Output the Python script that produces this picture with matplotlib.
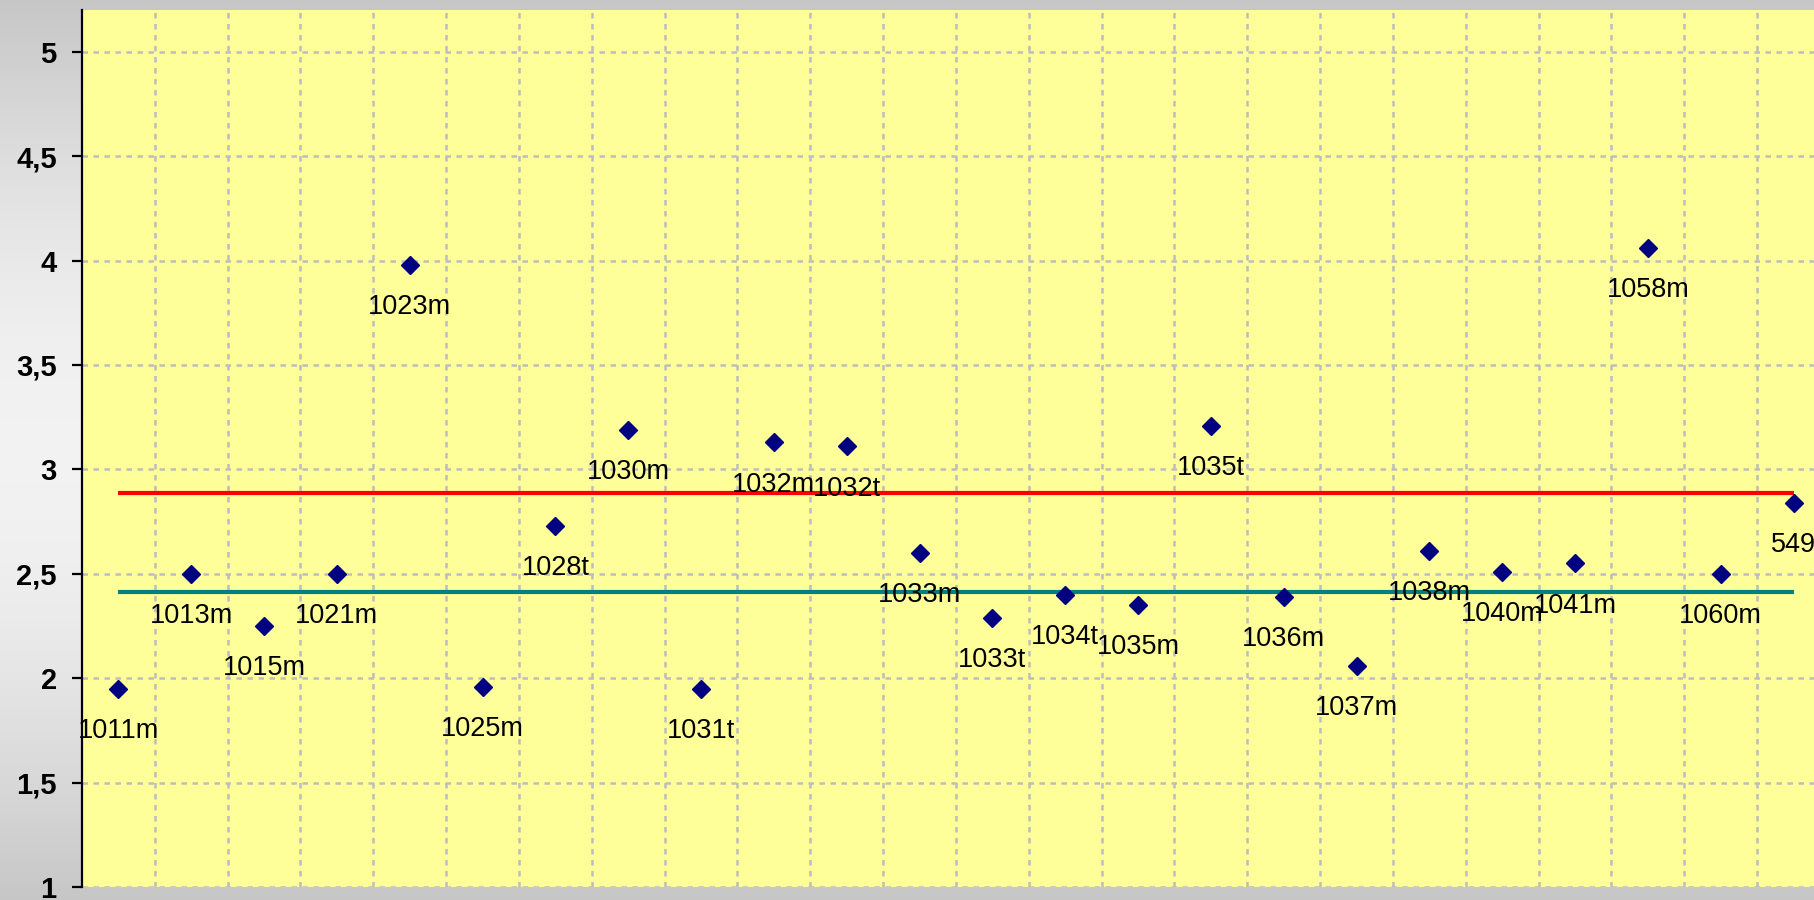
import numpy as np
import matplotlib.pyplot as plt
from matplotlib.ticker import FuncFormatter, MultipleLocator, FixedLocator

# data
labels = ["1011m", "1013m", "1015m", "1021m", "1023m", "1025m", "1028t", "1030m",
          "1031t", "1032m", "1032t", "1033m", "1033t", "1034t", "1035m", "1035t",
          "1036m", "1037m", "1038m", "1040m", "1041m", "1058m", "1060m", "549"]
values = [1.95, 2.50, 2.25, 2.50, 3.98, 1.96, 2.73, 3.19,
          1.95, 3.13, 3.11, 2.60, 2.29, 2.40, 2.35, 3.21,
          2.39, 2.06, 2.61, 2.51, 2.55, 4.06, 2.50, 2.84]
red_level = 2.885
teal_level = 2.415

plt.rcParams["font.family"] = ["Liberation Sans", "DejaVu Sans"]

W, H = 1814, 900
fig = plt.figure(figsize=(W / 100, H / 100), dpi=100)

# grey gradient background behind the plot area
bg = fig.add_axes([0, 0, 1, 1])
t = np.linspace(0, 1, 256)
shade = 0.78 + 0.17 * np.sin(np.pi * t)
grad = np.dstack([shade, shade, shade]).reshape(256, 1, 3)
bg.imshow(grad, aspect="auto", extent=[0, 1, 0, 1], origin="upper")
bg.set_axis_off()

# plot area runs past the right edge (reference is cropped there)
left, right, bottom, top = 82, 1830, 887, 10
ax = fig.add_axes([left / W, (H - bottom) / H, (right - left) / W, (bottom - top) / H])
ax.set_facecolor("#FFFF99")

x = np.arange(len(labels))
ax.plot(x, [red_level] * len(labels), color="#FF0000", lw=3, solid_capstyle="butt", zorder=2)
ax.plot(x, [teal_level] * len(labels), color="#008080", lw=3, solid_capstyle="butt", zorder=2)
ax.plot(x, values, linestyle="none", marker="D", ms=8.7, color="#000080", zorder=3)

for xi, yi, lab in zip(x, values, labels):
    ax.annotate(lab, (xi, yi), xytext=(0, -35.5), textcoords="offset points",
                ha="center", va="baseline", fontsize=19.5, color="black", zorder=4,
                annotation_clip=False)

ax.set_xlim(-0.5, len(labels) - 0.5)
ax.set_ylim(1, 5.2)

# grid: between categories vertically, every 0.5 horizontally
ax.xaxis.set_major_locator(FixedLocator(np.arange(0.5, len(labels) - 0.5, 1)))
ax.yaxis.set_major_locator(MultipleLocator(0.5))
ax.grid(True, color="#bdbdbd", lw=1.8, linestyle=(0, (2.2, 2.2)), zorder=1)
ax.set_axisbelow(True)
ax.tick_params(axis="x", length=0, labelbottom=False)
ax.tick_params(axis="y", direction="out", length=7.2, width=1.6, pad=11,
               labelsize=21, color="black")
for lab in ax.get_yticklabels():
    lab.set_fontweight("bold")
ax.yaxis.set_major_formatter(FuncFormatter(lambda v, p: f"{v:g}".replace(".", ",")))

for side in ["top", "right", "bottom"]:
    ax.spines[side].set_visible(False)
ax.spines["left"].set_linewidth(1.6)
ax.spines["left"].set_color("black")

fig.savefig("out.png", dpi=100)
